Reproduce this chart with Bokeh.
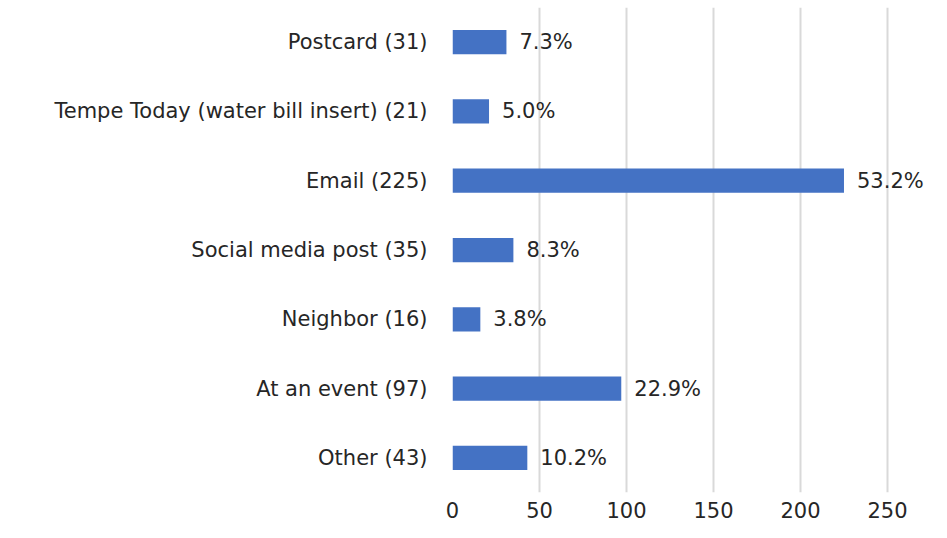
from bokeh.plotting import figure
from bokeh.models import ColumnDataSource, FactorRange, Range1d, FixedTicker
from bokeh.core.properties import value
from bokeh.embed import file_html
from bokeh.resources import INLINE

categories = ["Postcard (31)", "Tempe Today (water bill insert) (21)", "Email (225)",
              "Social media post (35)", "Neighbor (16)", "At an event (97)", "Other (43)"]
counts = [31, 21, 225, 35, 16, 97, 43]
pct_labels = ["7.3%", "5.0%", "53.2%", "8.3%", "3.8%", "22.9%", "10.2%"]
x_ticks = [0, 50, 100, 150, 200, 250]

FONT = "DejaVu Sans"
FS = "21px"
TXT = "#262626"

src = ColumnDataSource(data=dict(cat=categories, n=counts, lab=pct_labels))

p = figure(width=931, height=522, output_backend="svg", toolbar_location=None,
           y_range=FactorRange(factors=list(reversed(categories)), range_padding=0),
           x_range=Range1d(0, 275.3),
           min_border_left=452, min_border_right=0, min_border_top=7, min_border_bottom=30)
p.outline_line_color = None
p.background_fill_color = "white"
p.border_fill_color = "white"

p.hbar(y="cat", right="n", left=0, height=0.35, source=src, fill_color="#4472C4", line_color=None)
p.text(x="n", y="cat", text="lab", source=src, x_offset=13, text_baseline="middle",
       text_align="left", text_font=value(FONT), text_font_size=FS, text_color=TXT)

p.xaxis.ticker = FixedTicker(ticks=x_ticks)
p.xaxis.axis_line_color = None
p.xaxis.major_tick_line_color = None
p.xaxis.minor_tick_line_color = None
p.xaxis.major_label_text_font = FONT
p.xaxis.major_label_text_font_size = FS
p.xaxis.major_label_text_color = TXT
p.xaxis.major_label_standoff = 3

p.yaxis.axis_line_color = None
p.yaxis.major_tick_line_color = None
p.yaxis.minor_tick_line_color = None
p.yaxis.major_label_text_font = FONT
p.yaxis.major_label_text_font_size = FS
p.yaxis.major_label_text_color = TXT
p.yaxis.major_label_standoff = 19

p.xgrid.grid_line_color = "#d9d9d9"
p.xgrid.grid_line_width = 2
p.ygrid.grid_line_color = None

open("out.html", "w").write(file_html(p, INLINE))
